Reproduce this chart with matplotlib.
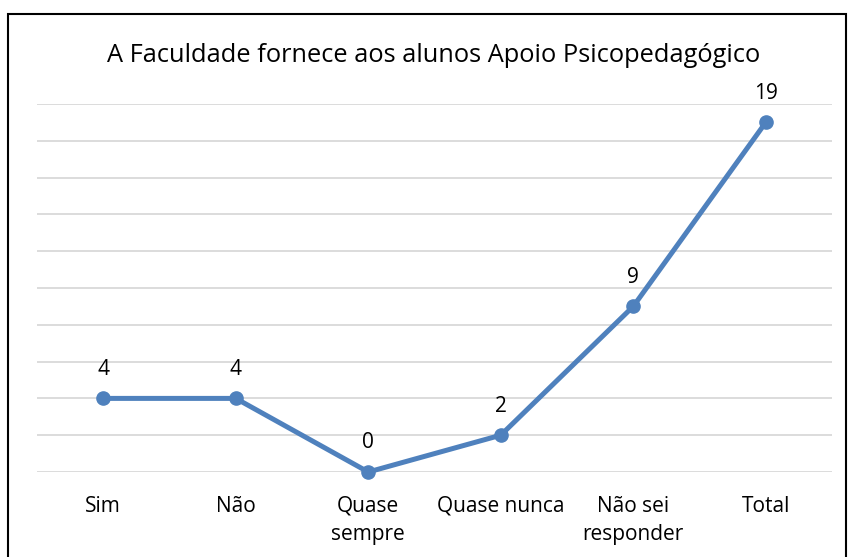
import matplotlib.pyplot as plt
from matplotlib.patches import Rectangle

categories = ['Sim', 'Não', 'Quase\nsempre', 'Quase nunca', 'Não sei\nresponder', 'Total']
values = [4, 4, 0, 2, 9, 19]
title = 'A Faculdade fornece aos alunos Apoio Psicopedagógico'

LINE = '#4f81bd'
plt.rcParams['font.family'] = ['Open Sans', 'DejaVu Sans']

fig = plt.figure(figsize=(8.5, 5.57), dpi=100)
W, H = 850, 557
# axes: x 37..832 px, y 104..472 px
ax = fig.add_axes([37 / W, 1 - 472 / H, (832 - 37) / W, (472 - 104) / H])

x = list(range(len(categories)))
ax.plot(x, values, color=LINE, lw=3.6, marker='o', ms=9.5, zorder=3,
        clip_on=False, solid_joinstyle='round')
for xi, v in zip(x, values):
    ax.annotate(str(v), (xi, v), xytext=(0, 17), textcoords='offset points',
                ha='center', va='baseline', fontsize=15)

ax.set_xlim(-0.5, len(categories) - 0.5)
ax.set_ylim(0, 20)
ax.set_yticks(range(0, 21, 2))
ax.yaxis.grid(True, color='#d9d9d9', lw=1.3)
ax.set_axisbelow(True)
ax.tick_params(axis='y', left=False, labelleft=False)
ax.tick_params(axis='x', length=0, pad=17, labelsize=15)
ax.set_xticks(x)
ax.set_xticklabels(categories, linespacing=1.45, va='top')
for s in ax.spines.values():
    s.set_visible(False)

fig.text(434 / W, 1 - 62 / H, title, ha='center', va='baseline', fontsize=18.3)

fig.patches.append(Rectangle((8 / W, -0.05), (846 - 8) / W, 1.05 - 14 / H,
                             transform=fig.transFigure, fill=False,
                             edgecolor='black', lw=1.5))

fig.savefig('out.png', dpi=100)
